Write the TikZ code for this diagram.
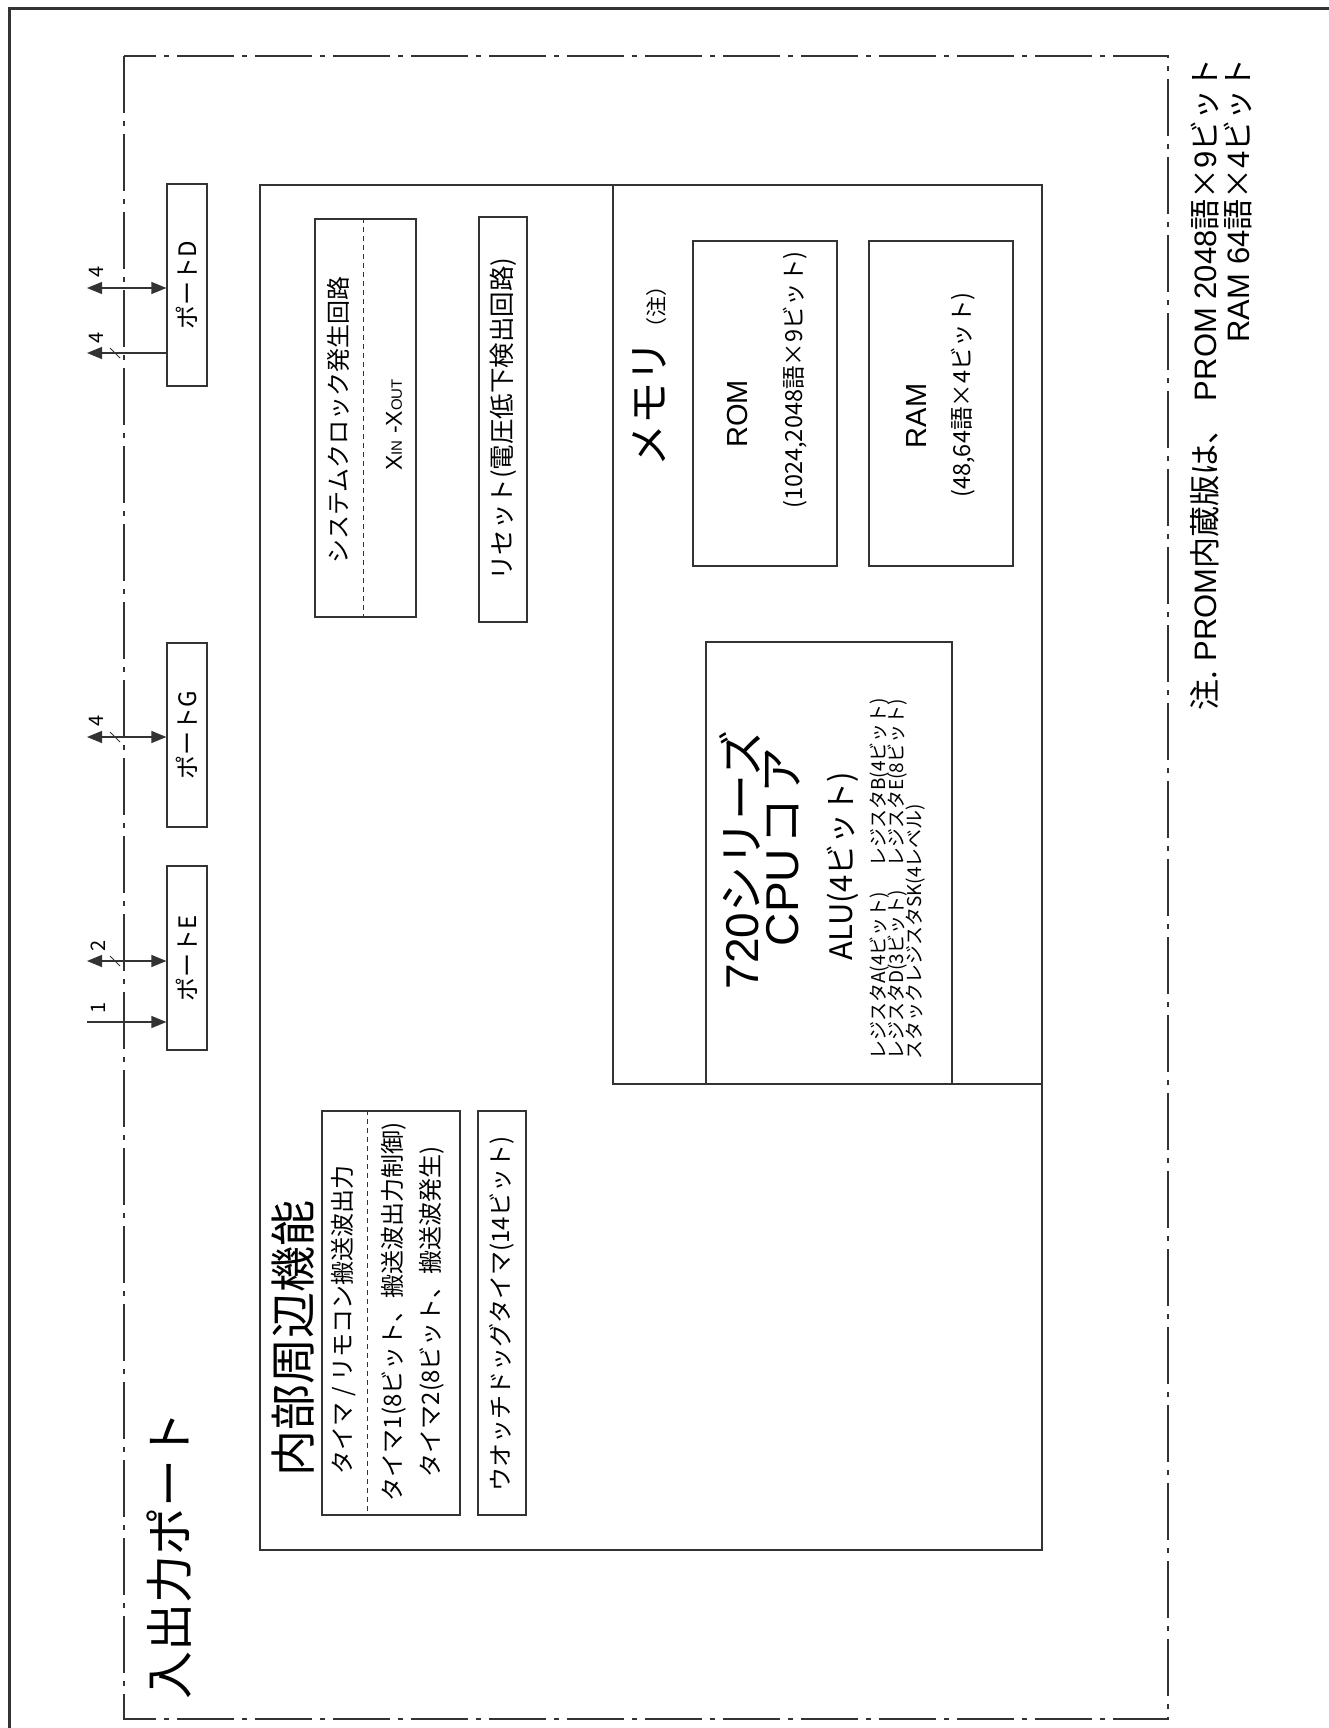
\documentclass[tikz,border=0pt]{standalone}
\usepackage{fontspec}
\setmainfont{Noto Sans CJK JP}
\newfontfamily\lat{Liberation Sans}
\usetikzlibrary{arrows.meta}
\newcommand{\fsz}[1]{\fontsize{#1}{#1}\selectfont}

\tikzset{
  ln/.style={draw=black!80, line width=1.2pt},
  blk/.style={ln, inner sep=0pt},
  txt/.style={rotate=90, inner sep=0pt},
  port/.style={blk, rotate=90, minimum height=40pt, font=\fsz{24}},
  num/.style={txt, font=\fsz{20}},
  tip/.style={ln, -{Triangle[length=15pt,width=12pt]}},
  tips/.style={ln, {Triangle[length=15pt,width=12pt]}-{Triangle[length=15pt,width=12pt]}},
  bus/.style={ln, line width=0.8pt},
  divider/.style={ln, line width=0.9pt, dash pattern=on 5pt off 4pt},
  dashdot/.style={ln, dash pattern=on 57pt off 8pt on 5pt off 8pt},
}

\begin{document}
\begin{tikzpicture}[x=1pt,y=-1pt]
  \useasboundingbox (0,0) rectangle (1328,1728);
  \draw[draw=black!80, line width=3pt] (9,9) rectangle (1400,1800);
  \draw[dashdot] (124,56) rectangle (1168,1719);

  \node[txt, anchor=west, font=\fsz{48}] (title) at (169,1700) {入出力ポート};

  %% ports
  \node[port, minimum width=202pt] (portD) at (187,285) {ポートD};
  \node[port, minimum width=184pt] (portG) at (187,735) {ポートG};
  \node[port, minimum width=184pt] (portE) at (187,958) {ポートE};

  \coordinate (dA) at (87,288);
  \coordinate (dB) at (87,353);
  \coordinate (gA) at (87,737);
  \coordinate (eA) at (87,961);
  \coordinate (eB) at (87,1022);

  \draw[tips] (dA) -- (dA -| portD.north);
  \draw[tip] (dB -| portD.north) -- (dB);
  \draw[tips] (gA) -- (gA -| portG.north);
  \draw[tips] (eA) -- (eA -| portE.north);
  \draw[tip] (eB) -- (eB -| portE.north);
  \foreach \c in {dB,gA,eA}
    \draw[bus] ([shift={(23,-5)}]\c) -- ++(10,10);

  \node[num] (nD1) at (96,272) {4};
  \node[num] (nD2) at (96,338) {4};
  \node[num] (nG) at (96,721) {4};
  \node[num] (nE2) at (98,946) {2};
  \node[num] (nE1) at (98,1008) {1};

  %% blocks
  \node[blk, minimum width=782pt, minimum height=1365pt] (core) at (651,867.5) {};
  \node[blk, minimum width=429pt, minimum height=899pt] (mem) at (827.5,634.5) {};
  \node[blk, minimum width=246pt, minimum height=442pt] (cpu) at (829,863) {};
  \node[blk, minimum width=144pt, minimum height=325pt] (rom) at (765,403.5) {};
  \node[blk, minimum width=144pt, minimum height=325pt] (ram) at (941,403.5) {};
  \node[blk, minimum width=101pt, minimum height=398pt] (clk) at (365.5,418) {};
  \node[blk, minimum width=48pt, minimum height=405pt] (rst) at (503,419.5) {};
  \node[blk, minimum width=138pt, minimum height=404pt] (tmr) at (391,1313) {};
  \node[blk, minimum width=48pt, minimum height=404pt] (wdt) at (502,1313) {};

  \draw[divider] (clk.north west) ++(49,0) -- ++(0,398);
  \draw[divider] (tmr.north west) ++(46,0) -- ++(0,404);

  %% texts
  \node[txt, font=\fsz{24}] (clkT) at (338,420) {システムクロック発生回路};
  \node[txt, font=\lat\fsz{23}] (xtal) at (394,425) {X{\fsz{15}IN} -X{\fsz{15}OUT}};
  \node[txt, font=\fsz{25.5}] (rstT) at (503,419) {リセット(電圧低下検出回路)};
  \node[txt, anchor=west, font=\fsz{46}] (coreT) at (293,1477) {内部周辺機能};
  \node[txt, font=\fsz{24}] (tm0) at (344,1320) {タイマ / リモコン搬送波出力};
  \node[txt, font=\fsz{24}] (tm1) at (394,1312) {タイマ1(8ビット、搬送波出力制御)};
  \node[txt, font=\fsz{24}] (tm2) at (432,1312) {タイマ2(8ビット、搬送波発生)};
  \node[txt, font=\fsz{24}] (wdtT) at (502,1314) {ウオッチドッグタイマ(14ビット)};

  \node[txt, anchor=west] (memT) at (650,467) {{\fsz{42}メモリ}\hspace{2pt}{\fsz{21}（注）}};
  \node[txt, font=\lat\fsz{29}] (romT) at (738,414) {ROM};
  \node[txt, font=\fsz{23.5}] (romS) at (795,380) {(1024,2048語×9ビット)};
  \node[txt, font=\lat\fsz{29}] (ramT) at (917,416) {RAM};
  \node[txt, font=\fsz{23.5}] (ramS) at (963,395) {(48,64語×4ビット)};

  \node[txt, font=\fsz{46}] (cpuT1) at (740,860) {{\lat 720}シリーズ};
  \node[txt, font=\fsz{46}] (cpuT2) at (783,847) {{\lat CPU}\hspace{0.1em}コ\hspace{0.1em}ア};
  \node[txt, font=\fsz{31}] (alu) at (843,866) {ALU(4ビット)};
  \node[txt, anchor=west, font=\fsz{19}] (regA) at (880,1060) {レジスタA(4ビット)};
  \node[txt, anchor=west, font=\fsz{19}] (regB) at (880,867) {レジスタB(4ビット)};
  \node[txt, anchor=west, font=\fsz{19}] (regD) at (898,1060) {レジスタD(3ビット)};
  \node[txt, anchor=west, font=\fsz{19}] (regE) at (898,867) {レジスタE(8ビット)};
  \node[txt, anchor=west, font=\fsz{19}] (regSK) at (916,1060) {スタックレジスタSK(4レベル)};

  %% note
  \node[txt, anchor=east, font=\fsz{31}] (note1) at (1205,58) {注. {\lat PROM}内蔵版は、\hspace{0.4em}{\lat PROM 2048}語×{\lat 9}ビット};
  \node[txt, anchor=east, font=\fsz{31}] (note2) at (1238,58) {{\lat RAM 64}語×{\lat 4}ビット};
\end{tikzpicture}
\end{document}
